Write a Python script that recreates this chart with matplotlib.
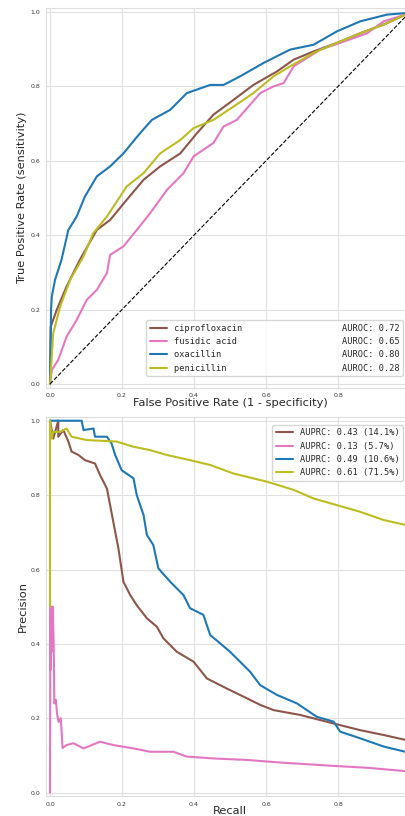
import matplotlib
matplotlib.use("Agg")
import matplotlib.pyplot as plt
import seaborn as sns

# --- ROC data ---
drugs = ["ciprofloxacin", "fusidic acid", "oxacillin", "penicillin"]
colors = ["#8c564b", "#e377c2", "#1f77b4", "#bcbd22"]
auroc = [0.72, 0.65, 0.80, 0.28]
auprc = [0.43, 0.13, 0.49, 0.61]
prevalence = [14.1, 5.7, 10.6, 71.5]

cipro_fpr = [0, 0.002, 0.019, 0.046, 0.083, 0.13, 0.167, 0.213, 0.26, 0.306, 0.362, 0.408,
             0.454, 0.51, 0.565, 0.63, 0.677, 0.732, 0.797, 0.862, 0.936, 0.987, 1.0]
cipro_tpr = [0, 0.154, 0.2, 0.262, 0.334, 0.414, 0.441, 0.495, 0.549, 0.585, 0.62, 0.674,
             0.724, 0.764, 0.804, 0.84, 0.872, 0.894, 0.917, 0.943, 0.97, 0.993, 1.0]

fusid_fpr = [0, 0.005, 0.023, 0.046, 0.074, 0.102, 0.13, 0.158, 0.167, 0.204, 0.241, 0.278,
             0.325, 0.371, 0.399, 0.454, 0.482, 0.519, 0.584, 0.621, 0.649, 0.677, 0.751,
             0.806, 0.881, 0.927, 0.987, 1.0]
fusid_tpr = [0, 0.038, 0.065, 0.127, 0.172, 0.226, 0.253, 0.298, 0.347, 0.37, 0.414, 0.459,
             0.522, 0.567, 0.612, 0.648, 0.692, 0.71, 0.782, 0.8, 0.809, 0.854, 0.899,
             0.917, 0.943, 0.975, 0.993, 1.0]

oxa_fpr = [0, 0.003, 0.005, 0.014, 0.032, 0.051, 0.074, 0.097, 0.13, 0.167, 0.204, 0.25,
           0.283, 0.334, 0.38, 0.445, 0.482, 0.528, 0.593, 0.667, 0.732, 0.797, 0.862,
           0.936, 0.987, 1.0]
oxa_tpr = [0, 0.2, 0.235, 0.28, 0.334, 0.414, 0.45, 0.504, 0.558, 0.585, 0.62, 0.674,
           0.71, 0.737, 0.782, 0.804, 0.804, 0.827, 0.863, 0.899, 0.912, 0.948, 0.975,
           0.993, 0.997, 1.0]

pen_fpr = [0, 0.009, 0.028, 0.056, 0.093, 0.12, 0.158, 0.213, 0.26, 0.306, 0.362, 0.399,
           0.454, 0.51, 0.565, 0.621, 0.667, 0.732, 0.797, 0.862, 0.927, 0.987, 1.0]
pen_tpr = [0, 0.136, 0.208, 0.28, 0.343, 0.405, 0.45, 0.531, 0.567, 0.62, 0.656, 0.688,
           0.71, 0.746, 0.782, 0.827, 0.854, 0.89, 0.917, 0.943, 0.966, 0.993, 1.0]

# --- PR data ---
cipro_rec = [0, 0.009, 0.023, 0.023, 0.037, 0.051, 0.06, 0.079, 0.097, 0.125, 0.139, 0.158,
             0.167, 0.181, 0.19, 0.204, 0.223, 0.241, 0.269, 0.297, 0.315, 0.352, 0.399,
             0.436, 0.491, 0.538, 0.584, 0.621, 0.695, 0.788, 0.862, 0.927, 0.987]
cipro_prec = [1.0, 0.952, 1.0, 0.957, 0.975, 0.944, 0.917, 0.908, 0.894, 0.885, 0.854, 0.818,
              0.773, 0.702, 0.657, 0.567, 0.531, 0.504, 0.469, 0.446, 0.415, 0.379, 0.352,
              0.307, 0.28, 0.258, 0.236, 0.222, 0.209, 0.186, 0.168, 0.155, 0.142]

fusid_rec = [0, 0.001, 0.002, 0.004, 0.006, 0.008, 0.011, 0.012, 0.016, 0.02, 0.024, 0.03,
             0.035, 0.046, 0.065, 0.093, 0.139, 0.176, 0.232, 0.278, 0.343, 0.38, 0.454,
             0.547, 0.64, 0.788, 0.881, 0.987]
fusid_prec = [0, 0.5, 0.33, 0.5, 0.38, 0.5, 0.35, 0.24, 0.25, 0.21, 0.19, 0.2,
              0.12, 0.128, 0.133, 0.119, 0.137, 0.128, 0.119, 0.11, 0.11, 0.097, 0.092,
              0.088, 0.081, 0.072, 0.067, 0.058]

oxa_rec = [0, 0.088, 0.093, 0.121, 0.125, 0.158, 0.171, 0.181, 0.199, 0.232, 0.241, 0.26,
           0.269, 0.287, 0.301, 0.334, 0.371, 0.389, 0.426, 0.445, 0.5, 0.528, 0.556,
           0.584, 0.63, 0.686, 0.741, 0.788, 0.806, 0.862, 0.927, 0.987]
oxa_prec = [1.0, 1.0, 0.975, 0.979, 0.957, 0.957, 0.939, 0.908, 0.867, 0.845, 0.8, 0.746,
            0.693, 0.666, 0.603, 0.567, 0.531, 0.496, 0.478, 0.424, 0.379, 0.352, 0.325,
            0.289, 0.263, 0.24, 0.204, 0.191, 0.164, 0.146, 0.124, 0.11]

pen_rec = [0, 0, 0.005, 0.009, 0.028, 0.046, 0.06, 0.102, 0.185, 0.232, 0.278, 0.324,
           0.389, 0.445, 0.51, 0.603, 0.677, 0.732, 0.797, 0.862, 0.927, 0.987]
pen_prec = [0.5, 1.0, 0.952, 0.97, 0.97, 0.979, 0.957, 0.948, 0.944, 0.93, 0.921, 0.908,
            0.894, 0.881, 0.858, 0.836, 0.814, 0.791, 0.773, 0.755, 0.733, 0.72]

roc = [(cipro_fpr, cipro_tpr), (fusid_fpr, fusid_tpr), (oxa_fpr, oxa_tpr), (pen_fpr, pen_tpr)]
pr = [(cipro_rec, cipro_prec), (fusid_rec, fusid_prec), (oxa_rec, oxa_prec), (pen_rec, pen_prec)]

sns.set_style("whitegrid")
plt.rcParams["axes.edgecolor"] = "#dddddd"
plt.rcParams["grid.color"] = "#e0e0e0"

W, H = 405, 816
fig = plt.figure(figsize=(W / 100, H / 100), dpi=100)

# axes extend slightly past the right edge of the figure (like the reference crop)
left_px, right_px = 46.4, 413.6
ax1 = fig.add_axes([left_px / W, (H - 387.7) / H, (right_px - left_px) / W, 379.4 / H])
ax2 = fig.add_axes([left_px / W, (H - 796.4) / H, (right_px - left_px) / W, 379.4 / H])

for (x, y), c, name, a in zip(roc, colors, drugs, auroc):
    ax1.plot(x, y, color=c, lw=1.5, label=f"{name:<32}AUROC: {a:.2f}")
ax1.plot([0, 1], [0, 1], color="black", ls="--", lw=0.8)

for (x, y), c, a, p in zip(pr, colors, auprc, prevalence):
    ax2.plot(x, y, color=c, lw=1.5, label=f"AUPRC: {a:.2f} ({p:.1f}%)")

for ax in (ax1, ax2):
    ax.set_xlim(-0.01, 1.01)
    ax.set_ylim(-0.01, 1.01)
    ax.set_xticks([0, 0.2, 0.4, 0.6, 0.8, 1.0])
    ax.set_xticklabels(["0.0", "0.2", "0.4", "0.6", "0.8", ""])
    ax.set_yticks([0, 0.2, 0.4, 0.6, 0.8, 1.0])
    ax.tick_params(labelsize=4.5, colors="#333333", pad=1)
    ax.tick_params(axis="x", pad=0.5)
    for s in ax.spines.values():
        s.set_color("#dddddd")

ax1.set_xlabel("False Positive Rate (1 - specificity)", fontsize=8.2, labelpad=0)
ax1.set_ylabel("True Positive Rate (sensitivity)", fontsize=8.2, labelpad=2)
ax2.set_xlabel("Recall", fontsize=8.2, labelpad=-0.5)
ax2.set_ylabel("Precision", fontsize=8.2, labelpad=2)

mono = {"family": "DejaVu Sans Mono", "size": 6.2}
ax1.legend(loc="lower right", bbox_to_anchor=(403 / W, (H - 376) / H),
           bbox_transform=fig.transFigure, prop=mono, borderaxespad=0,
           frameon=True, handlelength=2.0)
ax2.legend(loc="upper right", bbox_to_anchor=(403 / W, (H - 425) / H),
           bbox_transform=fig.transFigure, prop=mono, borderaxespad=0,
           frameon=True, handlelength=2.0)

fig.savefig("out.png", dpi=100)
